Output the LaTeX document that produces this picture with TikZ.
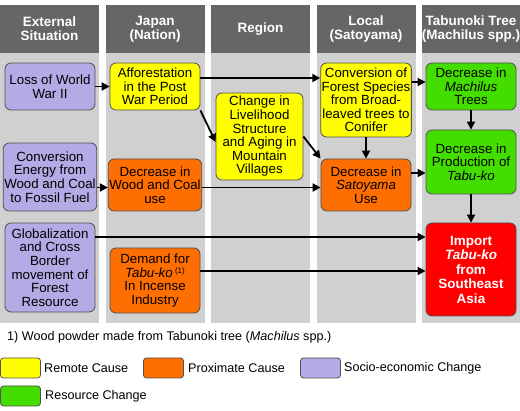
\documentclass[tikz,border=0pt]{standalone}
\usepackage{fontspec}
\setmainfont{Liberation Sans}
\usetikzlibrary{arrows.meta}
\definecolor{hdr}{HTML}{666666}
\definecolor{colbg}{HTML}{D0D0D0}
\definecolor{cyellow}{HTML}{FFFF00}
\definecolor{corange}{HTML}{FF6E00}
\definecolor{cpurple}{HTML}{B4AAE6}
\definecolor{cgreen}{HTML}{44DD00}
\definecolor{cred}{HTML}{FF0000}
\definecolor{edgec}{HTML}{505050}
\begin{document}
\begin{tikzpicture}[x=1pt,y=-1pt,
  box/.style={draw=edgec, line width=0.8pt, rounded corners=6pt, align=center,
    font=\fontsize{13.3}{13.6}\selectfont, inner sep=1pt, minimum width=90pt},
  hd/.style={fill=hdr, text=white, font=\bfseries\fontsize{13.5}{14}\selectfont,
    align=center, minimum width=99pt, minimum height=48pt, inner sep=0pt},
  arr/.style={line width=1.8pt, -{Triangle[length=8pt,width=8pt]}},
  leg/.style={draw=edgec, line width=0.8pt, rounded corners=3pt, minimum width=40pt, minimum height=20pt, inner sep=0pt},
  legt/.style={anchor=west, font=\fontsize{12.6}{14}\selectfont, inner sep=0pt}]
\useasboundingbox (0,0) rectangle (520,411);
% columns
\fill[colbg] (0,5) rectangle (99,323);
\fill[colbg] (105.5,5) rectangle (204.5,323);
\fill[colbg] (211,5) rectangle (310,323);
\fill[colbg] (316.5,5) rectangle (415.5,323);
\fill[colbg] (422,5) rectangle (520,323);
% headers
\node[hd] (h1) at (49.5,29) {External\\Situation};
\node[hd] (h2) at (155,29) {Japan\\(Nation)};
\node[hd] (h3) at (260.5,29) {Region};
\node[hd] (h4) at (366,29) {Local\\(Satoyama)};
\node[hd, minimum width=98pt] (h5) at (471,29) {Tabunoki Tree\\(Machilus spp.)};
% nodes
\node[box, fill=cpurple, minimum height=47pt] (loss) at (50,86.5) {Loss of World\\War II};
\node[box, fill=cyellow, minimum height=47pt] (aff) at (155,86.5) {Afforestation\\in the Post\\War Period};
\node[box, fill=cyellow, minimum height=87pt, minimum width=87pt] (liv) at (259.5,136.5) {Change in\\Livelihood\\Structure\\and Aging in\\Mountain\\Villages};
\node[box, fill=cyellow, minimum height=74pt] (cfs) at (366,100) {Conversion of\\Forest Species\\from Broad-\\leaved trees to\\Conifer};
\node[box, fill=cgreen, minimum height=47pt] (mach) at (471,86.5) {Decrease in\\\textit{Machilus}\\Trees};
\node[box, fill=cgreen, minimum height=64pt] (prod) at (471,162) {Decrease in\\Production of\\\textit{Tabu-ko}};
\node[box, fill=corange, minimum height=52pt] (sat) at (366,185) {Decrease in\\\textit{Satoyama}\\Use};
\node[box, fill=cpurple, minimum height=68pt] (conv) at (50,177) {Conversion\\Energy from\\Wood and Coal\\to Fossil Fuel};
\node[box, fill=corange, minimum height=52pt] (wood) at (155,185) {Decrease in\\Wood and Coal\\use};
\node[box, fill=cpurple, minimum height=89pt] (glob) at (50,267.5) {Globalization\\and Cross\\Border\\movement of\\Forest\\Resource};
\node[box, fill=corange, minimum height=65pt] (dem) at (155,280.5) {Demand for\\\textit{Tabu-ko}\,\raisebox{0.5ex}{\fontsize{8}{9}\selectfont(1)}\\In Incense\\Industry};
\node[box, fill=cred, minimum height=93pt, text=white, font=\bfseries\fontsize{13.5}{14.5}\selectfont] (imp) at (471,269.5) {Import\\\textit{Tabu-ko}\\from\\Southeast\\Asia};
% helper coordinates
\coordinate (y78) at (0,78);
\coordinate (y82) at (0,82);
\coordinate (y142) at (0,142);
\coordinate (y187) at (0,187.5);
\coordinate (y173) at (0,173);
\coordinate (y237) at (0,237);
\coordinate (y271) at (0,271);
% arrows
\draw[arr] (loss.east) -- (aff.west);
\draw[arr] (aff.east |- y78) -- (cfs.west |- y78);
\draw[arr] (aff.south east) -- (liv.west |- y142);
\draw[arr] (cfs.east |- y82) -- (mach.west |- y82);
\draw[arr] (mach.south) -- (prod.north);
\draw[arr] (cfs.south) -- (sat.north);
\draw[arr] (liv.east) -- (sat.north west);
\draw[arr] (conv.east |- y187) -- (wood.west |- y187);
\draw[arr] (wood.east |- y187) -- (sat.west |- y187);
\draw[arr] (sat.east |- y173) -- (prod.west |- y173);
\draw[arr] (prod.south) -- (imp.north);
\draw[arr] (glob.east |- y237) -- (imp.west |- y237);
\draw[arr] (dem.east |- y271) -- (imp.west |- y271);
% footnote
\node[legt] (fn) at (7,337) {1) Wood powder made from Tabunoki tree (\textit{Machilus} spp.)};
% legend
\node[leg, fill=cyellow] (l1) at (20.5,368) {};
\node[legt] (l1t) at (44,368) {Remote Cause};
\node[leg, fill=corange] (l2) at (163.5,368) {};
\node[legt] (l2t) at (188,368) {Proximate Cause};
\node[leg, fill=cpurple] (l3) at (320.5,368) {};
\node[legt] (l3t) at (344,368) {Socio-economic Change};
\node[leg, fill=cgreen] (l4) at (20.5,396) {};
\node[legt] (l4t) at (45,396) {Resource Change};
\end{tikzpicture}
\end{document}
